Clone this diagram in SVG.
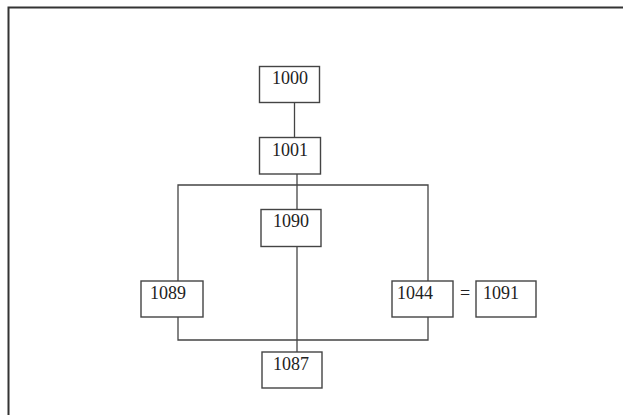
<svg xmlns="http://www.w3.org/2000/svg" width="623" height="415" viewBox="0 0 623 415">
<style>
.box{fill:#fff;stroke:#444;stroke-width:1.4}
.ln{fill:none;stroke:#444;stroke-width:1.3}
.t{font-family:"Liberation Serif","Times New Roman",serif;font-size:18px;fill:#222}
</style>
<rect x="0" y="0" width="623" height="415" fill="#fff"/>
<path d="M8.5 415 V7.5 H623" fill="none" stroke="#333" stroke-width="2"/>
<g id="connectors">
<line class="ln" x1="294.5" y1="103" x2="294.5" y2="137"/>
<line class="ln" x1="297" y1="174" x2="297" y2="209"/>
<polyline class="ln" points="178,281 178,185 428,185 428,281"/>
<line class="ln" x1="297" y1="247" x2="297" y2="352"/>
<polyline class="ln" points="178,317 178,340 428,340 428,317"/>
</g>
<g id="n1000"><rect class="box" x="259.5" y="66.5" width="60" height="36"/><text class="t" x="272" y="84">1000</text></g>
<g id="n1001"><rect class="box" x="259.5" y="137.5" width="61" height="36.5"/><text class="t" x="272" y="156">1001</text></g>
<g id="n1090"><rect class="box" x="261" y="209.5" width="60" height="37"/><text class="t" x="273" y="227">1090</text></g>
<g id="n1089"><rect class="box" x="141" y="281" width="62" height="36"/><text class="t" x="150" y="299">1089</text></g>
<g id="n1044"><rect class="box" x="392" y="281" width="61" height="36"/><text class="t" x="397" y="299">1044</text></g>
<g id="n1091"><rect class="box" x="476" y="281" width="60" height="36"/><text class="t" x="483" y="299">1091</text></g>
<g id="n1087"><rect class="box" x="262" y="352" width="60" height="36"/><text class="t" x="273" y="370">1087</text></g>
<text class="t" x="460" y="299">=</text>
</svg>
